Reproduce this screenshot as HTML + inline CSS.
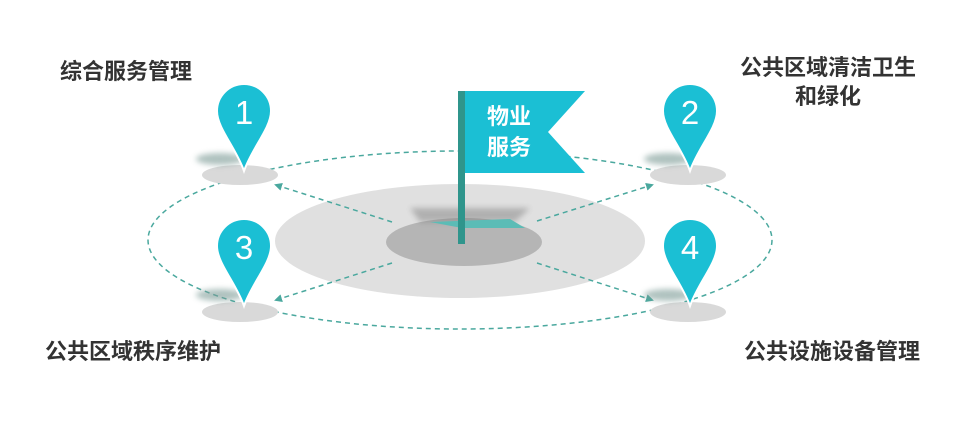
<!DOCTYPE html>
<html><head><meta charset="utf-8"><style>
body{margin:0;width:980px;height:432px;background:#fff;overflow:hidden;font-family:"Liberation Sans","Noto Sans CJK SC",sans-serif}
</style></head><body>
<svg width="980" height="432" viewBox="0 0 980 432" xmlns="http://www.w3.org/2000/svg">
<defs>
<filter id="b" x="-50%" y="-50%" width="200%" height="200%"><feGaussianBlur stdDeviation="3"/></filter>
<marker id="a" markerWidth="8" markerHeight="8" refX="6" refY="4" orient="auto" markerUnits="userSpaceOnUse"><path d="M0,0 L8,4 L0,8 Z" fill="#4aa89e"/></marker>
<g id="pin"><path d="M0,88 C-8,65 -27,45 -27,28 A27,27 0 1 1 27,28 C27,45 8,65 0,88 Z" fill="#1bbfd4" stroke="#fff" stroke-width="2"/></g>
</defs>
<ellipse cx="460" cy="240" rx="312" ry="89" fill="none" stroke="#4aa89e" stroke-width="1.5" stroke-dasharray="5,4"/>
<ellipse cx="460" cy="241" rx="185" ry="57" fill="#e0e0e0"/>
<ellipse cx="464" cy="242" rx="78" ry="24" fill="#b5b5b5"/>
<path d="M410,208 L530,208 L515,222 L420,222 Z" fill="#777" opacity="0.45" filter="url(#b)"/>
<path d="M430,222 L510,219 L525,228 L462,228 Z" fill="#5bbcb6"/>
<g stroke="#4aa89e" stroke-width="1.5" stroke-dasharray="5,4" fill="none">
<line x1="392" y1="222" x2="276" y2="185" marker-end="url(#a)"/>
<line x1="392" y1="263" x2="276" y2="300" marker-end="url(#a)"/>
<line x1="537" y1="221" x2="652" y2="185" marker-end="url(#a)"/>
<line x1="537" y1="263" x2="652" y2="300" marker-end="url(#a)"/>
</g>
<ellipse cx="240" cy="175" rx="38" ry="10" fill="#d9d9d9"/>
<ellipse cx="688" cy="175" rx="38" ry="10" fill="#d9d9d9"/>
<ellipse cx="240" cy="312" rx="38" ry="10" fill="#d9d9d9"/>
<ellipse cx="688" cy="312" rx="38" ry="10" fill="#d9d9d9"/>
<g fill="#7a9a94" opacity="0.6" filter="url(#b)">
<ellipse cx="220" cy="159" rx="24" ry="6"/><ellipse cx="668" cy="159" rx="24" ry="6"/>
<ellipse cx="220" cy="295" rx="24" ry="6"/><ellipse cx="668" cy="295" rx="24" ry="6"/>
</g>
<use href="#pin" x="244" y="83"/>
<use href="#pin" x="690" y="83"/>
<use href="#pin" x="244" y="218"/>
<use href="#pin" x="690" y="218"/>
<g fill="#fff" font-size="33" text-anchor="middle" font-family="Liberation Sans,sans-serif">
<text x="244" y="124">1</text><text x="690" y="124">2</text>
<text x="244" y="259">3</text><text x="690" y="259">4</text>
</g>
<rect x="458" y="91" width="7" height="153" fill="#2f958c"/>
<path d="M465,91 L585,91 L548,132 L585,173 L465,173 Z" fill="#1bbfd4"/>
<g fill="#fff" font-size="22" font-weight="bold">
<text x="487" y="124">物业</text><text x="487" y="155">服务</text>
</g>
<g fill="#333" font-size="22" font-weight="bold">
<text x="60" y="79">综合服务管理</text>
<text x="740" y="75">公共区域清洁卫生</text>
<text x="795" y="104">和绿化</text>
<text x="45" y="359">公共区域秩序维护</text>
<text x="744" y="359">公共设施设备管理</text>
</g>
</svg>
</body></html>
